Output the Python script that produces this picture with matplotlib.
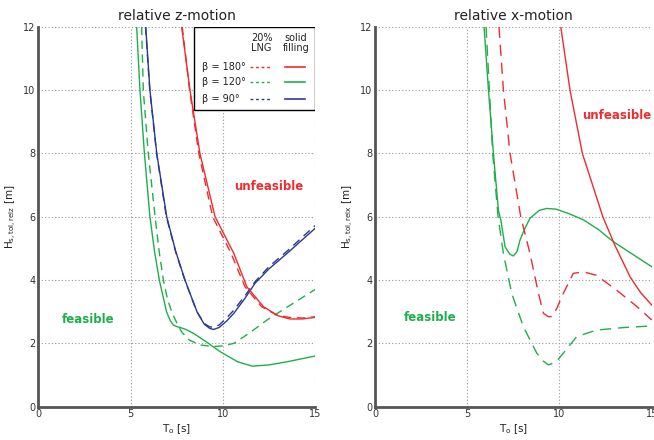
"""Tolerated significant wave height vs. wave period, relative z- and x-motion."""
import matplotlib
matplotlib.use("Agg")
import matplotlib.pyplot as plt
from matplotlib.patches import Rectangle

RED = "#ee2b2f"
GREEN = "#1fae4a"
BLUE = "#2b3a8f"

# ---- relative z-motion (left panel) ----
z_g_solid_x = [5.33, 5.51, 5.75, 6.05, 6.3, 6.56, 6.95, 7.15, 7.32, 7.5, 7.7, 8.0, 8.4, 9.1, 9.85,
               10.8, 11.6, 12.5, 13.5, 15.0]
z_g_solid_y = [12.0, 10.0, 8.0, 6.0, 4.9, 4.0, 3.0, 2.72, 2.58, 2.53, 2.5, 2.44, 2.32, 2.05, 1.74,
               1.42, 1.28, 1.32, 1.42, 1.6]
z_g_dash_x = [5.6, 5.69, 5.96, 6.33, 6.55, 6.78, 7.0, 7.23, 7.5, 7.78, 8.2, 8.76, 9.48, 10.0,
              10.6, 11.5, 12.4, 13.5, 15.0]
z_g_dash_y = [12.0, 10.0, 8.0, 6.0, 4.9, 4.0, 3.4, 3.0, 2.65, 2.35, 2.1, 1.95, 1.9, 1.92,
              2.0, 2.35, 2.74, 3.15, 3.7]
z_b_solid_x = [5.82, 6.05, 6.42, 6.96, 7.45, 7.95, 8.6, 9.0, 9.3, 9.5, 9.8, 10.2, 10.6, 11.2,
               11.75, 12.5, 13.5, 15.0]
z_b_solid_y = [12.0, 10.0, 8.0, 6.0, 4.9, 4.0, 3.0, 2.6, 2.47, 2.44, 2.5, 2.7, 2.95, 3.42,
               3.9, 4.35, 4.85, 5.63]
z_b_dash_x = [5.81, 6.04, 6.41, 6.94, 7.44, 7.94, 8.59, 8.99, 9.29, 9.5, 9.8, 10.2, 10.6, 11.2,
              11.75, 12.5, 13.5, 15.0]
z_b_dash_y = [12.0, 10.0, 8.0, 6.0, 4.9, 4.0, 3.0, 2.63, 2.52, 2.51, 2.58, 2.8, 3.05, 3.5,
              3.95, 4.42, 4.92, 5.72]
z_r_solid_x = [7.77, 8.22, 8.76, 9.58, 10.6, 11.3, 12.2, 13.0, 13.64, 14.3, 15.0]
z_r_solid_y = [12.0, 10.0, 8.0, 6.0, 4.84, 3.79, 3.16, 2.87, 2.77, 2.77, 2.82]
z_r_dash_x = [7.8, 8.2, 8.7, 9.45, 10.45, 11.2, 12.1, 12.9, 13.6, 14.3, 15.0]
z_r_dash_y = [12.0, 10.0, 8.0, 6.0, 4.84, 3.79, 3.16, 2.9, 2.82, 2.8, 2.84]

# ---- relative x-motion (right panel) ----
x_g_solid_x = [5.91, 6.15, 6.42, 6.69, 6.82, 7.05, 7.3, 7.5, 7.7, 7.86, 8.1, 8.4, 8.9, 9.3,
               9.8, 10.5, 11.3, 12.1, 12.92, 14.0, 15.0]
x_g_solid_y = [12.0, 10.0, 8.0, 6.2, 5.9, 5.05, 4.82, 4.76, 4.9, 5.26, 5.6, 5.95, 6.2, 6.26,
               6.24, 6.1, 5.9, 5.6, 5.21, 4.8, 4.42]
x_g_dash_x = [6.02, 6.2, 6.38, 6.67, 6.96, 7.41, 8.04, 8.77, 9.1, 9.4, 9.8, 10.21, 10.93,
              12.0, 13.5, 15.0]
x_g_dash_y = [12.0, 10.0, 8.0, 6.0, 4.84, 3.58, 2.53, 1.69, 1.45, 1.32, 1.4, 1.69, 2.21,
              2.42, 2.5, 2.55]
x_r_dash_x = [6.72, 6.96, 7.32, 7.9, 8.4, 8.86, 9.13, 9.4, 9.6, 9.85, 10.21, 10.75, 11.3,
              12.0, 13.1, 14.2, 15.0]
x_r_dash_y = [12.0, 10.0, 8.0, 6.0, 4.84, 3.58, 2.95, 2.84, 2.85, 3.1, 3.58, 4.21, 4.26,
              4.15, 3.68, 3.16, 2.74]
x_r_solid_x = [10.07, 10.57, 11.24, 12.35, 13.0, 13.83, 14.4, 15.0]
x_r_solid_y = [12.0, 10.0, 8.0, 6.0, 5.1, 4.1, 3.6, 3.21]

DASH = (0, (6, 4))

fig = plt.figure(figsize=(6.54, 4.4), dpi=100, facecolor="white")
axL = fig.add_axes([0.0586, 0.0757, 0.4231, 0.8636])
axR = fig.add_axes([0.5734, 0.0757, 0.4231, 0.8636])


def style(ax, title, ylab):
    ax.set_xlim(0, 15)
    ax.set_ylim(0, 12)
    ax.set_xticks([0, 5, 10, 15])
    ax.set_yticks([0, 2, 4, 6, 8, 10, 12])
    ax.grid(True, ls=(0, (1, 2)), color="#999999", lw=0.8)
    ax.tick_params(length=0, labelsize=7, colors="#333333", pad=2)
    for s in ["top", "right"]:
        ax.spines[s].set_visible(False)
    for s in ["left", "bottom"]:
        ax.spines[s].set_color("#555555")
        ax.spines[s].set_linewidth(2)
    ax.set_title(title, fontsize=10, color="#222222", pad=5)
    ax.set_xlabel(r"T$_\mathrm{o}$ [s]", fontsize=7.5, color="#222222", labelpad=2)
    ax.set_ylabel(ylab, fontsize=7.5, color="#222222", labelpad=3)


style(axL, "relative z-motion", r"H$_\mathrm{s,tol,relz}$ [m]")
style(axR, "relative x-motion", r"H$_\mathrm{s,tol,relx}$ [m]")

# left panel curves
axL.plot(z_g_solid_x, z_g_solid_y, color=GREEN, lw=1)
axL.plot(z_g_dash_x, z_g_dash_y, color=GREEN, lw=1, ls=DASH)
axL.plot(z_b_solid_x, z_b_solid_y, color=BLUE, lw=1)
axL.plot(z_b_dash_x, z_b_dash_y, color=BLUE, lw=1, ls=DASH)
axL.plot(z_r_solid_x, z_r_solid_y, color=RED, lw=1)
axL.plot(z_r_dash_x, z_r_dash_y, color=RED, lw=1, ls=DASH)

axL.text(12.5, 6.94, "unfeasible", color=RED, fontsize=8.5, fontweight="bold",
         ha="center", va="center")
axL.text(2.71, 2.74, "feasible", color=GREEN, fontsize=8.5, fontweight="bold",
         ha="center", va="center")

# legend box drawn by hand
tr = axL.transAxes
axL.add_patch(Rectangle((0.563, 0.78), 0.437, 0.22, transform=tr, fill=True,
                        facecolor="white", edgecolor="black", lw=1, zorder=5))
axL.text(0.807, 0.956, "20%\nLNG", transform=tr, ha="center", va="center",
         fontsize=7, color="#222222", linespacing=1.0, zorder=6)
axL.text(0.932, 0.956, "solid\nfilling", transform=tr, ha="center", va="center",
         fontsize=7, color="#222222", linespacing=1.0, zorder=6)
for yy, lab, c in [(0.895, "β = 180°", RED), (0.854, "β = 120°", GREEN), (0.81, "β = 90°", BLUE)]:
    axL.text(0.59, yy, lab, transform=tr, ha="left", va="center", fontsize=7,
             color="#222222", zorder=6)
    axL.plot([0.765, 0.838], [yy, yy], transform=tr, color=c, lw=1, ls=(0, (2, 2)), zorder=6)
    axL.plot([0.892, 0.965], [yy, yy], transform=tr, color=c, lw=1.2, zorder=6)

# right panel curves
axR.plot(x_g_solid_x, x_g_solid_y, color=GREEN, lw=1)
axR.plot(x_g_dash_x, x_g_dash_y, color=GREEN, lw=1, ls=(0, (8, 5)))
axR.plot(x_r_solid_x, x_r_solid_y, color=RED, lw=1)
axR.plot(x_r_dash_x, x_r_dash_y, color=RED, lw=1, ls=(0, (8, 5)))

axR.text(13.1, 9.19, "unfeasible", color=RED, fontsize=8.5, fontweight="bold",
         ha="center", va="center")
axR.text(2.98, 2.82, "feasible", color=GREEN, fontsize=8.5, fontweight="bold",
         ha="center", va="center")

fig.savefig("out.png", dpi=100)
